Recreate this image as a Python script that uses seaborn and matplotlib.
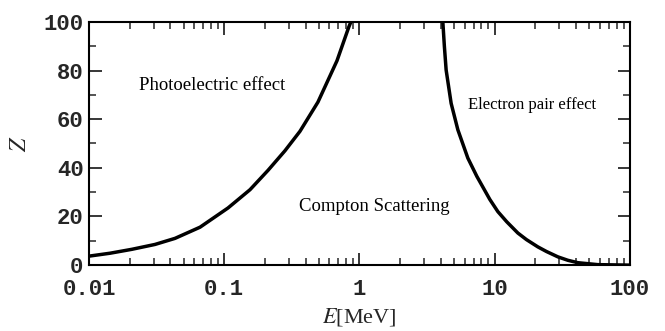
import numpy as np
import pandas as pd
import matplotlib
matplotlib.use("Agg")
import matplotlib.pyplot as plt
import seaborn as sns
from matplotlib.ticker import LogLocator, MultipleLocator, FixedLocator, FixedFormatter

# Boundary between photoelectric effect and Compton scattering
photo_E = [0.01, 0.0143, 0.0207, 0.0307, 0.0432, 0.0662, 0.1066, 0.155, 0.211,
           0.281, 0.363, 0.493, 0.682, 0.836, 0.865]
photo_Z = [3.7, 4.9, 6.5, 8.5, 11.0, 15.6, 23.5, 31.0, 39.0,
           47.0, 55.0, 67.0, 84.0, 98.0, 100.0]

# Boundary between Compton scattering and electron pair production
pair_E = [4.14, 4.25, 4.38, 4.77, 5.35, 6.34, 7.39, 9.22, 10.57, 12.31,
          14.86, 17.2, 20.9, 24.2, 29.4, 34.8, 41.3, 58.0, 100.0]
pair_Z = [100.0, 90.0, 80.2, 66.5, 55.6, 44.0, 36.5, 27.0, 22.0, 17.8,
          13.2, 10.5, 7.5, 5.6, 3.4, 2.0, 1.0, 0.2, 0.0]

x_ticks = [0.01, 0.1, 1, 10, 100]
x_tick_labels = ["0.01", "0.1", "1", "10", "100"]
y_ticks = [0, 20, 40, 60, 80, 100]
y_tick_labels = ["0", "20", "40", "60", "80", "100"]

region_labels = ["Photoelectric effect", "Compton Scattering", "Electron pair effect"]
region_E = [0.081, 1.28, 19.0]
region_Z = [74, 24, 66]
region_sizes = [13.5, 13.5, 12]

sns.set_style("white")
plt.rcParams["mathtext.fontset"] = "stix"

fig = plt.figure(figsize=(6.65, 3.31), dpi=100)
ax = fig.add_axes([0.134, 0.199, 0.813, 0.735])

df_photo = pd.DataFrame({"E": photo_E, "Z": photo_Z})
df_pair = pd.DataFrame({"E": pair_E, "Z": pair_Z})
sns.lineplot(data=df_photo, x="E", y="Z", ax=ax, color="black", linewidth=2.5, sort=False)
sns.lineplot(data=df_pair, x="E", y="Z", ax=ax, color="black", linewidth=2.5, sort=False)

ax.set_xscale("log")
ax.set_xlim(0.01, 100)
ax.set_ylim(0, 100)

ax.xaxis.set_major_locator(FixedLocator(x_ticks))
ax.xaxis.set_major_formatter(FixedFormatter(x_tick_labels))
ax.xaxis.set_minor_locator(LogLocator(base=10, subs=np.arange(2, 10)))
ax.xaxis.set_minor_formatter(plt.NullFormatter())
ax.yaxis.set_major_locator(FixedLocator(y_ticks))
ax.yaxis.set_major_formatter(FixedFormatter(y_tick_labels))
ax.yaxis.set_minor_locator(MultipleLocator(10))

for s in ax.spines.values():
    s.set_visible(True)
    s.set_color("black")
    s.set_linewidth(1.5)

ax.tick_params(which="major", direction="in", length=9, width=1.3,
               top=True, right=True, bottom=True, left=True)
ax.tick_params(which="minor", direction="in", length=5, width=1.1,
               top=True, right=True, bottom=True, left=True)
ax.tick_params(axis="x", which="major", pad=10)
ax.tick_params(axis="y", which="major", pad=4)

for lbl in ax.get_xticklabels() + ax.get_yticklabels():
    lbl.set_fontfamily("Liberation Mono")
    lbl.set_fontweight("bold")
    lbl.set_fontsize(16)

ax.set_xlabel("$E$[MeV]", fontsize=16, fontfamily="Liberation Serif", labelpad=4)
ax.set_ylabel("$Z$", fontsize=17, labelpad=9)

for t, e, z, fs in zip(region_labels, region_E, region_Z, region_sizes):
    ax.text(e, z, t, fontsize=fs, fontfamily="Liberation Serif",
            ha="center", va="center", color="black")

fig.savefig("out.png", dpi=100)
